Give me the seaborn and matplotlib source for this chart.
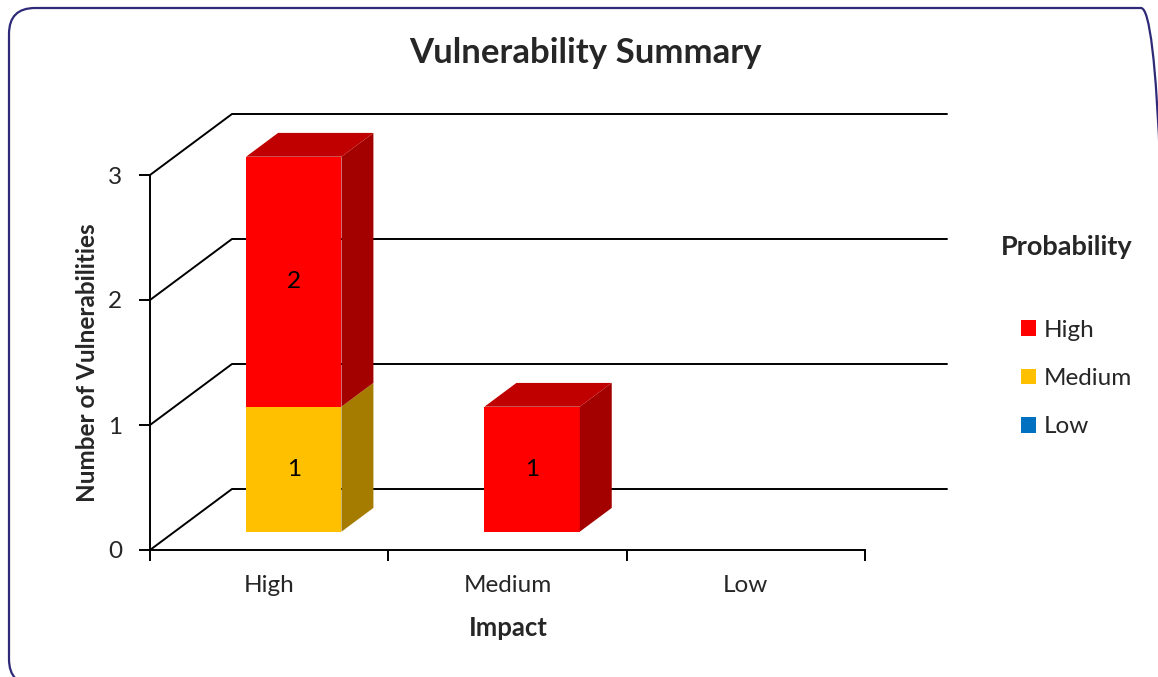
import numpy as np
import pandas as pd
import matplotlib
matplotlib.use("Agg")
import matplotlib.pyplot as plt
from matplotlib.patches import Polygon, Patch, FancyBboxPatch
from matplotlib.lines import Line2D
import seaborn as sns

# ---- data -------------------------------------------------------------
impact = ["High", "Medium", "Low"]          # x categories (Impact)
prob_high = [2, 1, 0]                       # Probability = High
prob_medium = [1, 0, 0]                     # Probability = Medium
prob_low = [0, 0, 0]                        # Probability = Low
y_ticks = [0, 1, 2, 3]
legend_order = ["High", "Medium", "Low"]

front_col = {"High": "#FF0000", "Medium": "#FFC000", "Low": "#0070C0"}
side_col = {"High": "#A30000", "Medium": "#A67C00", "Low": "#004E87"}
top_col = {"High": "#C00000", "Medium": "#C89600", "Low": "#005A9E"}

df = pd.DataFrame({"Impact": impact, "High": prob_high,
                   "Medium": prob_medium, "Low": prob_low})

# ---- style ------------------------------------------------------------
sns.set_style("white")
plt.rcParams["font.family"] = ["Lato", "DejaVu Sans"]
FS = 17.5       # regular text
FSB = 17.5      # bold axis titles

W, H = 1158, 677
fig = plt.figure(figsize=(W / 100, H / 100), dpi=100)
ax = fig.add_axes([150 / W, (H - 550) / H, (947 - 150) / W, (550 - 114) / H])

# pseudo-3D geometry (data units)
DX, DY = 0.344, 0.488        # depth of the back wall
F0, F1 = 0.30, 0.69          # bar front / back planes as a fraction of depth
BAR_W = 0.40
ddx, ddy = (F1 - F0) * DX, (F1 - F0) * DY

# ---- stacked bars (bottom -> top: Low, Medium, High) -------------------
stack = ["Low", "Medium", "High"]
bottoms = np.zeros(len(impact))
segments = []   # (category index, level, patch, value)
for level in stack:
    n0 = len(ax.patches)
    sns.barplot(data=df, x="Impact", y=level, order=impact,
                color=front_col[level], saturation=1, width=BAR_W,
                errorbar=None, linewidth=0, zorder=3, ax=ax)
    for p in ax.patches[n0:]:
        i = int(round(p.get_x() + p.get_width() / 2))
        val = df[level].iloc[i]
        p.set_x(p.get_x() + F0 * DX)
        p.set_y(bottoms[i] + F0 * DY)
        segments.append((i, level, p, val))
    bottoms += df[level].to_numpy()

# side and top faces, data labels
for i, level, p, val in segments:
    if val <= 0:
        continue
    x0, y0, w, h = p.get_x(), p.get_y(), p.get_width(), p.get_height()
    side = Polygon([(x0 + w, y0), (x0 + w + ddx, y0 + ddy),
                    (x0 + w + ddx, y0 + h + ddy), (x0 + w, y0 + h)],
                   closed=True, facecolor=side_col[level], lw=0, zorder=3)
    ax.add_patch(side)
    topmost = all(v <= 0 for j, lv, _, v in segments
                  if j == i and stack.index(lv) > stack.index(level))
    if topmost:
        top = Polygon([(x0, y0 + h), (x0 + w, y0 + h),
                       (x0 + w + ddx, y0 + h + ddy), (x0 + ddx, y0 + h + ddy)],
                      closed=True, facecolor=top_col[level], lw=0, zorder=3)
        ax.add_patch(top)
    ax.text(x0 + w / 2, y0 + h / 2, f"{val:g}", ha="center", va="center",
            fontsize=FS, color="black", zorder=5)

# ---- back wall gridlines ---------------------------------------------
n = len(impact)
for t in y_ticks:
    ax.add_line(Line2D([-0.5, -0.5 + DX, n - 0.5 + DX], [t, t + DY, t + DY],
                       color="black", lw=1.4, zorder=1, clip_on=False))

ax.set_xlim(-0.5, n - 0.5 + DX)
ax.set_ylim(0, y_ticks[-1] + DY)

# ---- axes -------------------------------------------------------------
for s in ["top", "right"]:
    ax.spines[s].set_visible(False)
for s in ["left", "bottom"]:
    ax.spines[s].set_color("black")
    ax.spines[s].set_linewidth(1.4)
ax.spines["left"].set_bounds(0, y_ticks[-1])
ax.spines["bottom"].set_bounds(-0.5, n - 0.5)

ax.set_yticks(y_ticks, labels=[str(t) for t in y_ticks])
ax.set_xticks(np.arange(n + 1) - 0.5, labels=[""] * (n + 1))
ax.set_xticks(np.arange(n), labels=impact, minor=True)
ax.tick_params(axis="y", left=True, length=8, width=1.4, color="black",
               direction="out", pad=12, labelsize=FS)
ax.tick_params(axis="x", which="major", bottom=True, length=8, width=1.4,
               color="black", direction="out")
ax.tick_params(axis="x", which="minor", bottom=True, length=0, pad=18,
               labelsize=FS)
ax.grid(False)

ax.set_xlabel("Impact", fontsize=18.5, fontweight="bold")
ax.xaxis.label.set_va("center")
ax.xaxis.set_label_coords((508 - 150) / 797, (550 - 628) / 436)
ax.set_ylabel("Number of Vulnerabilities", fontsize=FSB, fontweight="bold")
ax.yaxis.label.set_va("center")
ax.yaxis.set_label_coords((88 - 150) / 797, (550 - 362.5) / 436)

fig.suptitle("Vulnerability Summary", x=585 / W, y=1 - 53 / H, va="center",
             fontsize=25, fontweight="bold")

# ---- legend -----------------------------------------------------------
fig.text(1067 / W, 1 - 247 / H, "Probability", ha="center", va="center",
         fontsize=19.5, fontweight="bold")
handles = [Patch(facecolor=front_col[k], edgecolor="none") for k in legend_order]
fig.legend(handles, legend_order, loc="center left",
           bbox_to_anchor=(1021 / W, 1 - 378.5 / H), frameon=False,
           fontsize=FS, borderpad=0, borderaxespad=0,
           handlelength=0.62, handleheight=0.62,
           handletextpad=0.3, labelspacing=1.13)

# ---- rounded chart border (inch units keep the corners circular) --------
border = FancyBboxPatch((0.09, -0.08), 11.58, 6.77,
                        boxstyle="round,pad=0,rounding_size=0.26",
                        transform=fig.dpi_scale_trans, facecolor="none",
                        edgecolor="#2E2A78", linewidth=1.6, zorder=10)
fig.patches.append(border)

fig.savefig("out.png", dpi=100)
